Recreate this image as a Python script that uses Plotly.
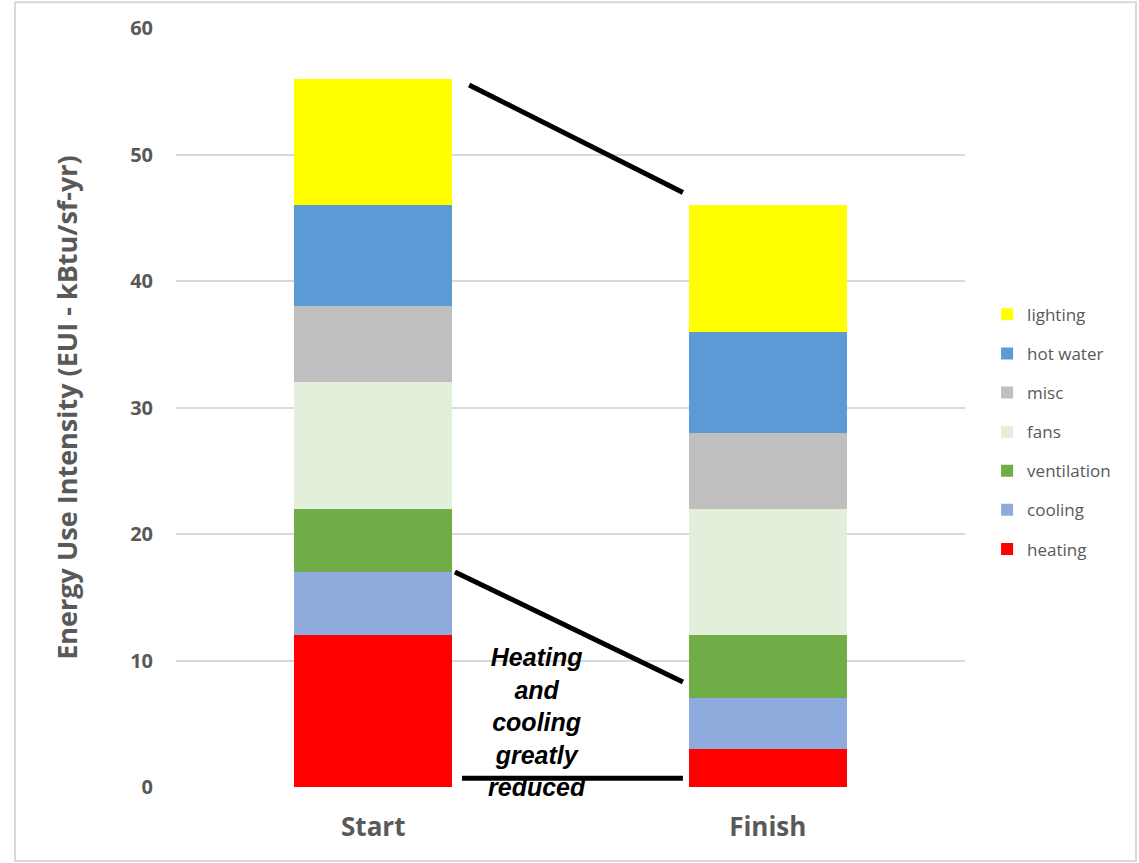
import plotly.graph_objects as go

categories = ["Start", "Finish"]
series_names = ["heating", "cooling", "ventilation", "fans", "misc", "hot water", "lighting"]
heating = [12, 3]
cooling = [5, 4]
ventilation = [5, 5]
fans = [10, 10]
misc = [6, 6]
hot_water = [8, 8]
lighting = [10, 10]
colors = ["#FF0000", "#8FAADC", "#70AD47", "#E2EFDA", "#BFBFBF", "#5B9BD5", "#FFFF00"]
y_ticks = [0, 10, 20, 30, 40, 50, 60]

series = [heating, cooling, ventilation, fans, misc, hot_water, lighting]
xs = [0, 1]

fig = go.Figure()
n = len(series)
for i, (name, vals, col) in enumerate(zip(series_names, series, colors)):
    fig.add_trace(go.Bar(
        x=xs, y=vals, name=name, marker=dict(color=col, line=dict(width=0)),
        width=0.4, legendgroup=name, legendrank=n - i,
    ))

start_total = sum(s[0] for s in series)
finish_total = sum(s[1] for s in series)
start_hc = heating[0] + cooling[0]
finish_hc = heating[1] + cooling[1]

line_style = dict(color="black", width=5)
shapes = [
    dict(type="line", xref="x", yref="y", x0=0.243, y0=start_total - 0.5, x1=0.785, y1=finish_total + 1,
         line=line_style, layer="above"),
    dict(type="line", xref="x", yref="y", x0=0.207, y0=start_hc, x1=0.785, y1=finish_hc + 1.3,
         line=line_style, layer="above"),
    dict(type="line", xref="x", yref="y", x0=0.225, y0=0.7, x1=0.785, y1=0.7,
         line=line_style, layer="above"),
    dict(type="rect", xref="paper", yref="paper", x0=-0.204, y0=-0.0975, x1=1.2167, y1=1.034,
         line=dict(color="#D9D9D9", width=2), layer="below"),
]

fig.update_layout(
    barmode="stack",
    width=1139, height=863,
    margin=dict(l=176, r=174, t=28, b=76, autoexpand=False),
    paper_bgcolor="white", plot_bgcolor="white",
    font=dict(family="Open Sans", color="#595959"),
    shapes=shapes,
    showlegend=True,
    legend=dict(
        traceorder="grouped", x=1.028, xanchor="left", y=0.468, yanchor="middle",
        font=dict(size=17, color="#595959"), tracegroupgap=14, bgcolor="rgba(0,0,0,0)",
    ),
    annotations=[dict(
        text="Heating<br>and<br>cooling<br>greatly<br>reduced",
        xref="x", yref="y", x=0.415, y=5.1, showarrow=False,
        font=dict(family="Liberation Sans, Arial", size=25, color="black", weight="bold", style="italic"),
        align="center",
    )],
)
fig.update_xaxes(
    tickvals=xs, ticktext=categories, range=[-0.5, 1.5], showgrid=False, zeroline=False,
    showline=False, ticklabelstandoff=22,
    tickfont=dict(size=26, color="#595959", weight="bold"),
    automargin=False,
)
fig.update_yaxes(
    range=[0, 60], tickvals=y_ticks, showgrid=True, gridcolor="#D9D9D9", gridwidth=1.5,
    zeroline=False, showline=False, ticklabelstandoff=22,
    tickfont=dict(size=20, color="#595959", weight="bold"),
    title=dict(text="Energy Use Intensity (EUI - kBtu/sf-yr)", standoff=44,
               font=dict(size=27, color="#595959", weight="bold")),
    automargin=False,
)

fig.write_html("out.html")
